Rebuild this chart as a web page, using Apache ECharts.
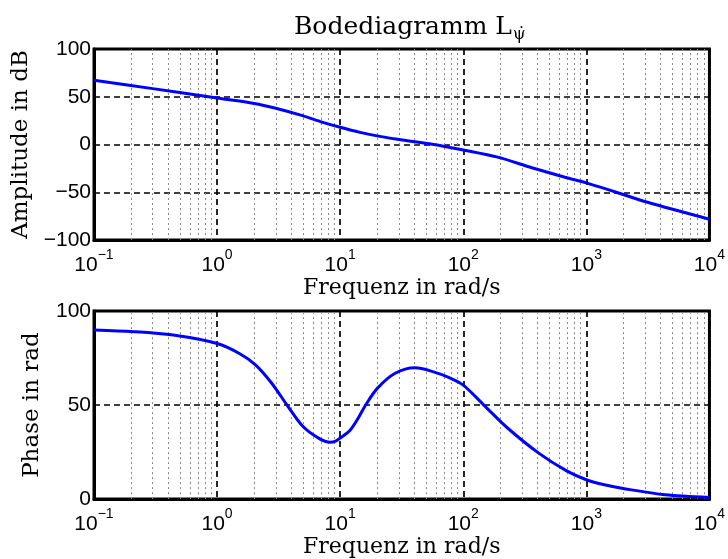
<!DOCTYPE html>
<html>
<head>
<meta charset="utf-8">
<script src="https://cdn.jsdelivr.net/npm/echarts@6/dist/echarts.min.js"></script>
<style>
html,body{margin:0;padding:0;background:#fff;}
#chart{width:728px;height:559px;}
</style>
</head>
<body>
<div id="chart"></div>
<script>
// ---- data ----
var ampFreq  = [0.1, 0.3, 1, 2, 3, 4.7, 6.9, 10, 14.5, 21, 32, 56, 100, 194, 361, 670, 1000, 1700, 3140, 10000];
var ampDb    = [67.2, 58.5, 48.6, 43, 38, 31, 24, 18, 12.7, 8.5, 4.7, 0.3, -5.7, -13.5, -24.3, -34.3, -40.2, -49.5, -60.5, -78.2];
var phaseFreq = [0.1, 0.21, 0.44, 1, 1.53, 2.05, 2.75, 3.7, 4.97, 6.67, 8.3, 9.2, 10, 12, 14, 16.1, 20.1, 28, 40.6, 56.5, 76, 100, 147, 229, 413, 692, 1000, 1400, 2089, 4365, 10000];
var phaseVal  = [89.9, 89, 87.2, 82.7, 77.3, 71.4, 62, 50, 38.7, 32.4, 30.2, 30.8, 32.5, 36.5, 43, 50, 59, 66.9, 69.8, 67.8, 64.7, 60.6, 50, 37.8, 24.3, 15, 10.3, 7.6, 5.4, 2.3, 0.9];
var decades = [0.1, 1, 10, 100, 1000];
var minorMult = [2, 3, 4, 5, 6, 7, 8, 9];

var minorLines = [];
decades.forEach(function(d){ minorMult.forEach(function(m){ minorLines.push({xAxis: +(d*m).toPrecision(3)}); }); });

function zip(a, b){ return a.map(function(v,i){ return [v, b[i]]; }); }

var sans = 'Liberation Sans';
var serif = 'DejaVu Serif';

function xLabel(v){
  var e = Math.round(Math.log10(v));
  var s = e < 0 ? '\u2212' + (-e) : '' + e;
  return '{b|10}{s|' + s + '}';
}
function yLabel(v){
  return v < 0 ? '\u2212' + (-v) : '' + v;
}

function xAxisCfg(gi){
  return {
    type: 'log', logBase: 10, gridIndex: gi, min: 0.1, max: 10000,
    name: 'Frequenz in rad/s', nameLocation: 'middle', nameGap: 34,
    nameTextStyle: {fontFamily: serif, fontSize: 22, color: '#000'},
    axisLine: {show: true, onZero: false, lineStyle: {color: '#000', width: 3}},
    axisTick: {show: false},
    axisLabel: {
      formatter: xLabel, margin: 8, color: '#000',
      rich: {
        b: {fontFamily: sans, fontSize: 21, color: '#000', verticalAlign: 'bottom', lineHeight: 28},
        s: {fontFamily: sans, fontSize: 14, color: '#000', verticalAlign: 'top', lineHeight: 14}
      }
    },
    splitLine: {show: true, lineStyle: {color: '#000', type: [6, 4], width: 1.7}}
  };
}
function yAxisCfg(gi, name, min, max){
  return {
    type: 'value', gridIndex: gi, min: min, max: max, interval: 50,
    name: name, nameLocation: 'middle', nameGap: 50,
    nameTextStyle: {fontFamily: serif, fontSize: 23, color: '#000'},
    axisLine: {show: true, onZero: false, lineStyle: {color: '#000', width: 3}},
    axisTick: {show: false},
    axisLabel: {formatter: yLabel, fontFamily: sans, fontSize: 21, color: '#000', margin: 3},
    splitLine: {show: true, lineStyle: {color: '#000', type: [6, 4], width: 1.7}}
  };
}
function minorSeries(gi){
  return {
    type: 'line', xAxisIndex: gi, yAxisIndex: gi, data: [], silent: true, z: 1,
    markLine: {
      silent: true, symbol: ['none', 'none'], animation: false,
      label: {show: false},
      lineStyle: {color: '#888888', type: [2, 3], width: 1},
      data: minorLines
    }
  };
}

var chart = echarts.init(document.getElementById('chart'), null, {renderer: 'canvas'});
chart.setOption({
  animation: false,
  backgroundColor: '#fff',
  title: {
    text: '{a|Bodediagramm L}{s|\u03C8\u0307}',
    left: 289, top: 10,
    textStyle: {
      fontWeight: 'normal',
      rich: {
        a: {fontFamily: serif, fontSize: 25, fontWeight: 'normal', color: '#000', verticalAlign: 'top', lineHeight: 28},
        s: {fontFamily: serif, fontSize: 16, fontWeight: 'normal', color: '#000', verticalAlign: 'bottom', lineHeight: 17, padding: [13, 0, 0, 1]}
      }
    }
  },
  grid: [
    {left: 94, top: 49, width: 617, height: 191, show: true, borderColor: '#000', borderWidth: 3, backgroundColor: 'transparent'},
    {left: 94, top: 311, width: 617, height: 189, show: true, borderColor: '#000', borderWidth: 3, backgroundColor: 'transparent'}
  ],
  xAxis: [xAxisCfg(0), xAxisCfg(1)],
  yAxis: [yAxisCfg(0, 'Amplitude in dB', -100, 100), yAxisCfg(1, 'Phase in rad', 0, 100)],
  series: [
    minorSeries(0),
    minorSeries(1),
    {type: 'line', xAxisIndex: 0, yAxisIndex: 0, data: zip(ampFreq, ampDb), smooth: 0.3, showSymbol: false,
     lineStyle: {color: '#0000ff', width: 3}, z: 5},
    {type: 'line', xAxisIndex: 1, yAxisIndex: 1, data: zip(phaseFreq, phaseVal), smooth: 0.3, showSymbol: false,
     lineStyle: {color: '#0000ff', width: 3}, z: 5}
  ]
});
</script>
</body>
</html>
